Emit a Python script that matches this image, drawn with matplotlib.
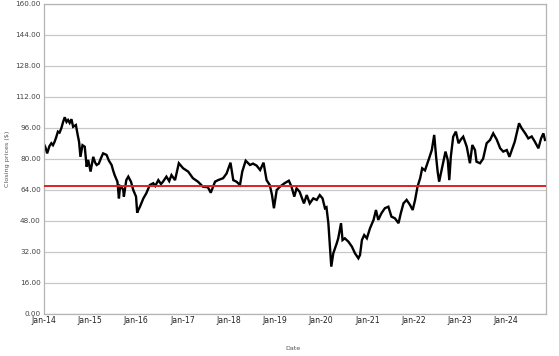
import matplotlib
matplotlib.use("Agg")
import matplotlib.pyplot as plt
import matplotlib.dates as mdates
import pandas as pd
import numpy as np

# closing prices (date, price)
dates = [
    "2014-01-01", "2014-01-15", "2014-01-29", "2014-02-16", "2014-03-03", "2014-03-16", "2014-03-29",
    "2014-04-10", "2014-04-24", "2014-05-07", "2014-05-21", "2014-06-04", "2014-06-17", "2014-07-01",
    "2014-07-13", "2014-07-26", "2014-08-09", "2014-08-22", "2014-09-13", "2014-09-28", "2014-10-08",
    "2014-10-19", "2014-11-04", "2014-11-22", "2014-12-07", "2014-12-19", "2015-01-07", "2015-01-28",
    "2015-02-12", "2015-02-24", "2015-03-13", "2015-03-28", "2015-04-16", "2015-05-13", "2015-06-01",
    "2015-06-22", "2015-07-04", "2015-07-16", "2015-08-07", "2015-08-19", "2015-08-28", "2015-09-07",
    "2015-09-22", "2015-09-27", "2015-10-16", "2015-11-01", "2015-11-22", "2015-12-10", "2016-01-01",
    "2016-01-10", "2016-01-19", "2016-02-01", "2016-02-28", "2016-03-22", "2016-04-19", "2016-05-16",
    "2016-06-01", "2016-06-25", "2016-07-16", "2016-08-01", "2016-08-28", "2016-09-19", "2016-10-07",
    "2016-11-04", "2016-12-04", "2017-01-07", "2017-02-16", "2017-03-25", "2017-05-04", "2017-06-13",
    "2017-07-22", "2017-08-13", "2017-09-16", "2017-10-10", "2017-11-19", "2017-12-16", "2018-01-16",
    "2018-02-07", "2018-03-04", "2018-04-01", "2018-04-19", "2018-05-16", "2018-06-19", "2018-07-13",
    "2018-08-10", "2018-09-07", "2018-10-04", "2018-10-28", "2018-11-22", "2018-12-10", "2018-12-25",
    "2019-01-16", "2019-02-10", "2019-03-19", "2019-04-22", "2019-05-13", "2019-06-04", "2019-06-22",
    "2019-07-16", "2019-08-19", "2019-09-10", "2019-10-04", "2019-11-01", "2019-11-28", "2019-12-22",
    "2020-01-13", "2020-02-01", "2020-02-13", "2020-02-28", "2020-03-10", "2020-03-22", "2020-04-07",
    "2020-05-04", "2020-05-16", "2020-06-07", "2020-06-19", "2020-07-07", "2020-08-04", "2020-09-01",
    "2020-09-25", "2020-10-22", "2020-11-04", "2020-11-19", "2020-12-07", "2020-12-28", "2021-01-22",
    "2021-02-19", "2021-03-10", "2021-03-28", "2021-04-22", "2021-05-19", "2021-06-16", "2021-07-10",
    "2021-08-07", "2021-09-04", "2021-09-22", "2021-10-13", "2021-11-07", "2021-12-04", "2021-12-25",
    "2022-01-13", "2022-02-01", "2022-02-22", "2022-03-10", "2022-04-01", "2022-05-04", "2022-05-25",
    "2022-06-13", "2022-06-28", "2022-07-10", "2022-07-22", "2022-08-19", "2022-09-10", "2022-09-28",
    "2022-10-10", "2022-10-22", "2022-11-10", "2022-12-01", "2022-12-22", "2023-01-10", "2023-01-28",
    "2023-02-25", "2023-03-22", "2023-04-10", "2023-05-01", "2023-05-13", "2023-06-10", "2023-07-04",
    "2023-08-01", "2023-08-28", "2023-09-22", "2023-10-19", "2023-11-16", "2023-12-10", "2024-01-07",
    "2024-01-28", "2024-02-16", "2024-03-10", "2024-04-13", "2024-05-04", "2024-06-01", "2024-06-25",
    "2024-07-22", "2024-08-16", "2024-09-13", "2024-10-04", "2024-10-22", "2024-11-04",
]
prices = [
    88, 86, 82.8, 86.5, 88, 87, 88.8,
    91, 94, 93.5, 95.7, 99, 101.4, 99,
    100, 98.5, 100.4, 96.5, 97.4, 92, 88.8,
    81, 87, 86.2, 75.9, 79.4, 73.4, 81,
    78, 76.8, 77.5, 80, 82.8, 82, 79,
    76.8, 74, 71.6, 68.2, 59.6, 66, 65.6,
    63.9, 60.5, 69, 70.8, 68.2, 63.9, 60.5,
    52.2, 53.6, 55.3, 59.6, 62.2, 66.5, 67.4,
    66, 69, 67, 68.2, 70.8, 68.5, 71.6,
    69, 77.7, 75.1, 73.4, 70, 68.2, 65.6,
    65.3, 62.5, 68.2, 69, 70, 72.4, 78,
    69, 68.2, 66.5, 73.4, 79, 76.8, 77.5,
    76.5, 74.2, 78, 69, 66.5, 61.3, 54.5,
    63.9, 65.6, 67.4, 68.7, 65.6, 60.5, 64.8,
    63, 57, 61.3, 57, 59.6, 58.8, 61.3,
    59.6, 54.5, 55, 46.8, 36.4, 24.4, 31.3,
    36.4, 39, 46.8, 38.1, 39, 37.3, 34.7,
    31.3, 28.7, 30.4, 38.1, 40.7, 39, 44.2,
    48.5, 53.6, 48.5, 51.9, 54.5, 55.3, 50.2,
    49.3, 46.8, 51.9, 57, 58.8, 56.2, 53.6,
    58.8, 65.6, 70, 75.1, 74, 80.3, 84.5,
    92.3, 81, 73.4, 68.2, 76.8, 83.7, 79.4,
    69, 81, 91.4, 94, 88, 90, 91.4,
    86.2, 77.7, 87.1, 84.5, 78.5, 77.7, 80,
    88, 89.7, 93.1, 90, 85.4, 83.7, 84.5,
    81, 84.5, 88.8, 98.3, 95.7, 93.1, 90.5,
    91.5, 88.8, 85.4, 90.5, 93.1, 89.7,
]
reference_price = 65.8
y_ticks = [0, 16, 32, 48, 64, 80, 96, 112, 128, 144, 160]

df = pd.DataFrame({"date": pd.to_datetime(dates), "close": prices})

fig = plt.figure(figsize=(5.59, 3.56), dpi=100)
ax = fig.add_axes([0.078, 0.118, 0.899, 0.872])

ax.plot(df["date"], df["close"], color="black", linewidth=1.7, solid_joinstyle="miter")
ax.axhline(reference_price, color="#e0201e", linewidth=1.4, zorder=3)

ax.set_ylim(0, 160)
ax.set_yticks(y_ticks)
ax.set_yticklabels(["%.2f" % v for v in y_ticks])
ax.set_xlim(pd.Timestamp("2014-01-01"), pd.Timestamp("2024-11-13"))
ax.xaxis.set_major_locator(mdates.YearLocator())
ax.xaxis.set_major_formatter(mdates.DateFormatter("%b-%y"))

ax.grid(axis="y", color="#c8c8c8", linewidth=0.9)
ax.set_axisbelow(True)
for s in ax.spines.values():
    s.set_color("#b4b4b4")
    s.set_linewidth(0.9)

ax.tick_params(axis="y", length=0, pad=2, labelsize=5.2, labelcolor="#444444")
ax.tick_params(axis="x", length=0, pad=1.5, labelsize=5.6, labelcolor="#222222")

ax.set_ylabel("Closing prices ($)", fontsize=4.6, color="#555555")
ax.yaxis.set_label_coords(-0.066, 0.5)
fig.text(0.524, 0.016, "Date", fontsize=4.6, color="#555555", ha="center")

fig.savefig("out.png", dpi=100)
